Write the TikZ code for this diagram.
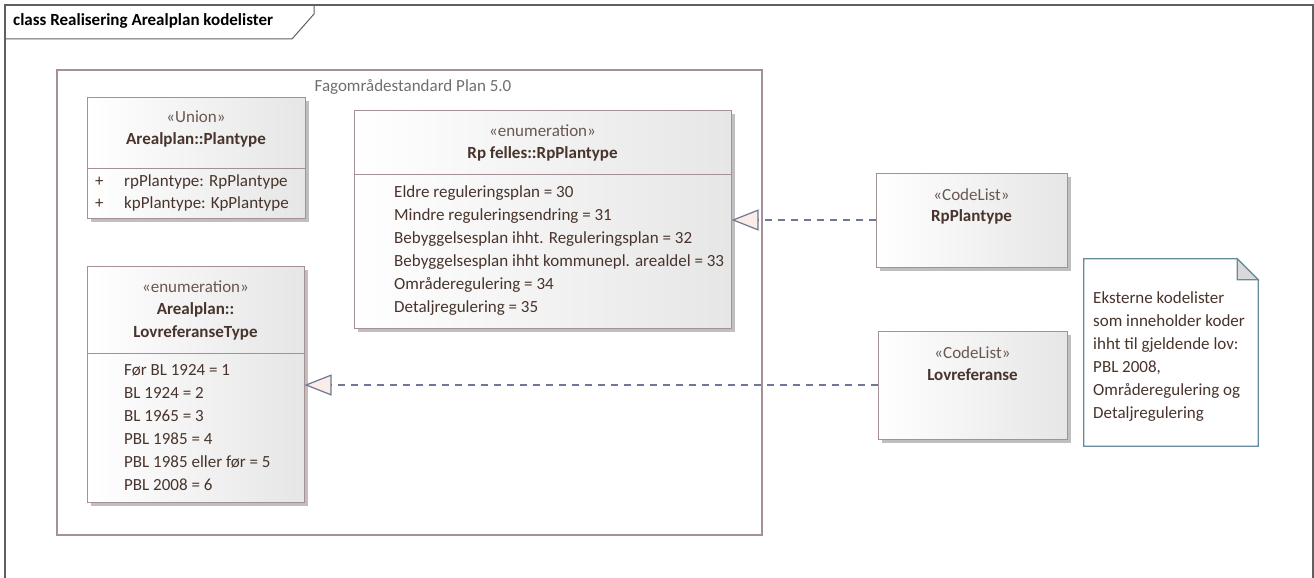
\documentclass[tikz,border=0pt]{standalone}
\usepackage{fontspec}
\setmainfont{Carlito}
\usetikzlibrary{arrows.meta,shadows}

\definecolor{frameline}{RGB}{95,95,95}
\definecolor{boxline}{RGB}{165,145,148}
\definecolor{boxfill}{RGB}{230,230,230}
\definecolor{txt}{RGB}{72,52,44}
\definecolor{stereo}{RGB}{105,88,80}
\definecolor{pkgtxt}{RGB}{110,110,110}
\definecolor{realline}{RGB}{110,120,150}
\definecolor{headfill}{RGB}{250,236,230}
\definecolor{noteline}{RGB}{100,140,158}

\newcommand{\umlfont}{\fontsize{17}{23}\selectfont}

\tikzset{
  umlbox/.style={draw=boxline, line width=1pt, left color=white, right color=boxfill,
    drop shadow={shadow xshift=4pt, shadow yshift=-4pt, fill=black!25, opacity=1}},
  stereotxt/.style={text=stereo, inner sep=0pt},
  nametxt/.style={text=txt, font=\umlfont\bfseries, inner sep=0pt},
  itemtxt/.style={text=txt, inner sep=0pt, anchor=base west},
  realize/.style={draw=realline, line width=1.2pt, dash pattern=on 7pt off 6pt,
    -{Triangle[open, length=27pt, width=21pt, fill=headfill]}},
}

\begin{document}
\begin{tikzpicture}[x=1pt, y=-1pt, font=\umlfont]
\useasboundingbox (0,0) rectangle (1314,578);

% frame
\draw[frameline, line width=1.5pt] (5,578) -- (5,5) -- (1313,5) -- (1313,578);
\draw[frameline, line width=1pt] (5,39) -- (292,39) -- (314,14) -- (314,5);
\node[anchor=west, font=\umlfont\bfseries, inner sep=0pt](title) at (13,21) {class Realisering Arealplan kodelister};

% package
\node[draw=boxline, line width=1.2pt, minimum width=705pt, minimum height=465pt](pkg) at (409.5,302.5) {};
\node[text=pkgtxt, inner sep=0pt](pkglabel) at (413,87) {Fagområdestandard Plan 5.0};

% Union
\node[umlbox, minimum width=218pt, minimum height=121pt](plantype) at (196,157.5) {};
\node[stereotxt](plantypeSt) at (196,117) {«Union»};
\node[nametxt](plantypeNm) at (196,140) {Arealplan::Plantype};
\draw[boxline, line width=1pt] (plantype.west |- 0,168) -- (plantype.east |- 0,168);
\node[itemtxt](pt1) at (95,186) {+};
\node[itemtxt](pt1n) at (124,186) {rpPlantype: RpPlantype};
\node[itemtxt](pt2) at (95,208) {+};
\node[itemtxt](pt2n) at (124,208) {kpPlantype: KpPlantype};

% enumeration RpPlantype
\node[umlbox, minimum width=377pt, minimum height=218pt](rpenum) at (542.5,219) {};
\node[stereotxt](rpenumSt) at (542.5,131) {«enumeration»};
\node[nametxt](rpenumNm) at (542.5,154) {Rp felles::RpPlantype};
\draw[boxline, line width=1pt] (rpenum.west |- 0,174) -- (rpenum.east |- 0,174);
\foreach \t [count=\i] in {Eldre reguleringsplan = 30, Mindre reguleringsendring = 31,
    Bebyggelsesplan ihht. Reguleringsplan = 32, Bebyggelsesplan ihht kommunepl. arealdel = 33,
    Områderegulering = 34, Detaljregulering = 35}
  \node[itemtxt](rp\i) at (394,174+23*\i) {\t};

% enumeration LovreferanseType
\node[umlbox, minimum width=217pt, minimum height=236pt](lovenum) at (195.5,384) {};
\node[stereotxt](lovenumSt) at (195.5,287) {«enumeration»};
\node[nametxt](lovenumNm1) at (195.5,310) {Arealplan::};
\node[nametxt](lovenumNm2) at (195.5,333) {LovreferanseType};
\draw[boxline, line width=1pt] (lovenum.west |- 0,353) -- (lovenum.east |- 0,353);
\foreach \t [count=\i] in {Før BL 1924 = 1, BL 1924 = 2, BL 1965 = 3, PBL 1985 = 4,
    PBL 1985 eller før = 5, PBL 2008 = 6}
  \node[itemtxt](lov\i) at (124,352+23*\i) {\t};

% code lists
\node[umlbox, minimum width=191pt, minimum height=94pt](clrp) at (971.5,220) {};
\node[stereotxt](clrpSt) at (971.5,195) {«CodeList»};
\node[nametxt](clrpNm) at (971.5,217) {RpPlantype};

\node[umlbox, minimum width=189pt, minimum height=108pt](cllov) at (972.5,385) {};
\node[stereotxt](cllovSt) at (972.5,353) {«CodeList»};
\node[nametxt](cllovNm) at (972.5,375) {Lovreferanse};

% note
\node[minimum width=174pt, minimum height=187pt, inner sep=0pt](note) at (1171,352.5) {};
\draw[noteline, line width=1.2pt, fill=white] (note.north west) -- ([xshift=-21pt]note.north east)
  -- ([yshift=-21pt]note.north east) -- (note.south east) -- (note.south west) -- cycle;
\draw[noteline, line width=1.2pt, fill=black!15] ([xshift=-21pt]note.north east)
  -- ([xshift=-21pt,yshift=-21pt]note.north east) -- ([yshift=-21pt]note.north east) -- cycle;
\foreach \t [count=\i] in {Eksterne kodelister, som inneholder koder, ihht til gjeldende lov:,
    {PBL 2008,}, Områderegulering og, Detaljregulering}
  \node[itemtxt](nt\i) at (1093,280+23*\i) {\t};

% realisations
\draw[realize] (clrp.west) -- (clrp.west -| rpenum.east);
\draw[realize] (cllov.west) -- (cllov.west -| lovenum.east);
\end{tikzpicture}
\end{document}
